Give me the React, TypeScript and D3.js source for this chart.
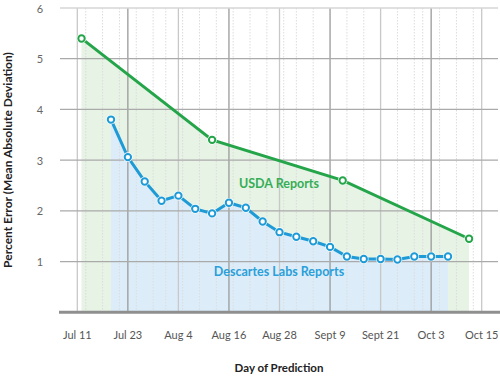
import React from "react";
import * as d3 from "d3";

const W = 500;
const H = 377;

const usdaDates = ["2017-07-12", "2017-08-12", "2017-09-12", "2017-10-12"];
const usdaValues = [5.4, 3.4, 2.6, 1.45];

const dlDates = [
  "2017-07-19", "2017-07-23", "2017-07-27", "2017-07-31", "2017-08-04", "2017-08-08",
  "2017-08-12", "2017-08-16", "2017-08-20", "2017-08-24", "2017-08-28", "2017-09-01",
  "2017-09-05", "2017-09-09", "2017-09-13", "2017-09-17", "2017-09-21", "2017-09-25",
  "2017-09-29", "2017-10-03", "2017-10-07",
];
const dlValues = [
  3.8, 3.06, 2.58, 2.2, 2.3, 2.04, 1.95, 2.16, 2.06, 1.79, 1.58, 1.49, 1.4, 1.29,
  1.1, 1.05, 1.05, 1.04, 1.1, 1.1, 1.1,
];

const xTickDates = [
  "2017-07-11", "2017-07-23", "2017-08-04", "2017-08-16", "2017-08-28",
  "2017-09-09", "2017-09-21", "2017-10-03", "2017-10-15",
];
const xTickLabels = ["Jul 11", "Jul 23", "Aug 4", "Aug 16", "Aug 28", "Sept 9", "Sept 21", "Oct 3", "Oct 15"];
const yTicks = [1, 2, 3, 4, 5, 6];

const parse = (s: string) => {
  const [y, m, d] = s.split("-").map(Number);
  return new Date(y, m - 1, d, 12);
};

const GREEN = "#25a54a";
const BLUE = "#1e9bd7";
const GREEN_FILL = "#e6f3e5";
const BLUE_FILL = "#dcedf9";
const FONT = "Lato, 'Open Sans', sans-serif";

export default function App() {
  const x = d3
    .scaleTime()
    .domain([parse("2017-07-11"), parse("2017-10-15")])
    .range([77.3, 481.7]);
  const y = d3.scaleLinear().domain([0, 6]).range([312.3, 8]);

  const usda = usdaDates.map((d, i) => ({ date: parse(d), v: usdaValues[i] }));
  const dl = dlDates.map((d, i) => ({ date: parse(d), v: dlValues[i] }));

  const line = d3
    .line<{ date: Date; v: number }>()
    .x((d) => x(d.date))
    .y((d) => y(d.v));
  const area = d3
    .area<{ date: Date; v: number }>()
    .x((d) => x(d.date))
    .y0(y(0))
    .y1((d) => y(d.v));

  const minor: Date[] = d3.timeDay
    .every(4)!
    .range(parse("2017-07-11"), parse("2017-10-16"))
    .map((d) => new Date(d.getFullYear(), d.getMonth(), d.getDate(), 12));
  const start = parse("2017-07-11").getTime();
  const dayIdx = (d: Date) => Math.round((d.getTime() - start) / 86400000);

  return (
    <svg
      width={W}
      height={H}
      style={{ position: "absolute", left: 0, top: 0, background: "#fff" }}
      fontFamily={FONT}
    >
      <path d={area(usda) || ""} fill={GREEN_FILL} />
      <path d={area(dl) || ""} fill={BLUE_FILL} />

      {minor
        .filter((d) => dayIdx(d) % 12 !== 0)
        .map((d, i) => (
          <line
            key={"m" + i}
            x1={x(d)}
            x2={x(d)}
            y1={y(6)}
            y2={y(0)}
            stroke="#dcdcdc"
            strokeWidth={1}
            strokeDasharray="1.5,1.5"
          />
        ))}

      {xTickDates.map((s, i) => (
        <line
          key={"v" + i}
          x1={x(parse(s))}
          x2={x(parse(s))}
          y1={y(6)}
          y2={y(0)}
          stroke={i % 2 === 1 ? "#9a9a9a" : "#c8c8c8"}
          strokeWidth={1.3}
        />
      ))}

      {yTicks.map((t) => (
        <line
          key={"h" + t}
          x1={60}
          x2={498}
          y1={y(t)}
          y2={y(t)}
          stroke={t === 6 ? "#d6d6d6" : "#aaaaaa"}
          strokeWidth={1.3}
        />
      ))}
      <line x1={59} x2={500} y1={y(0)} y2={y(0)} stroke="#8f8f8f" strokeWidth={3} />

      <path d={line(usda) || ""} fill="none" stroke={GREEN} strokeWidth={3} />
      <path d={line(dl) || ""} fill="none" stroke={BLUE} strokeWidth={3} />

      {usda.map((d, i) => (
        <g key={"ug" + i}>
          <circle cx={x(d.date)} cy={y(d.v)} r={4.8} fill="#fff" />
          <circle cx={x(d.date)} cy={y(d.v)} r={3.2} fill="#fff" stroke={GREEN} strokeWidth={2} />
        </g>
      ))}
      {dl.map((d, i) => (
        <g key={"dg" + i}>
          <circle cx={x(d.date)} cy={y(d.v)} r={4.8} fill="#fff" />
          <circle cx={x(d.date)} cy={y(d.v)} r={3.2} fill="#fff" stroke={BLUE} strokeWidth={2} />
        </g>
      ))}

      <text x={279} y={183} textAnchor="middle" dominantBaseline="central" fill="#36ad57" fontSize={12.5} fontWeight="bold">
        USDA Reports
      </text>
      <text x={279} y={271} textAnchor="middle" dominantBaseline="central" fill="#2a9fd9" fontSize={12.5} fontWeight="bold">
        Descartes Labs Reports
      </text>

      {yTicks.map((t) => (
        <text key={"yt" + t} x={40} y={y(t)} textAnchor="middle" dominantBaseline="central" fill="#666" fontSize={11}>
          {t}
        </text>
      ))}

      {xTickDates.map((s, i) => (
        <text key={"xt" + i} x={x(parse(s))} y={334} textAnchor="middle" dominantBaseline="central" fill="#555" fontSize={11}>
          {xTickLabels[i]}
        </text>
      ))}

      <text x={279} y={367} textAnchor="middle" dominantBaseline="central" fill="#222" fontSize={11.5} fontWeight="bold">
        Day of Prediction
      </text>
      <text
        transform="translate(7,160) rotate(-90)"
        textAnchor="middle"
        dominantBaseline="central"
        fill="#222"
        fontSize={12}
        fontWeight="bold"
      >
        Percent Error (Mean Absolute Deviation)
      </text>
    </svg>
  );
}
